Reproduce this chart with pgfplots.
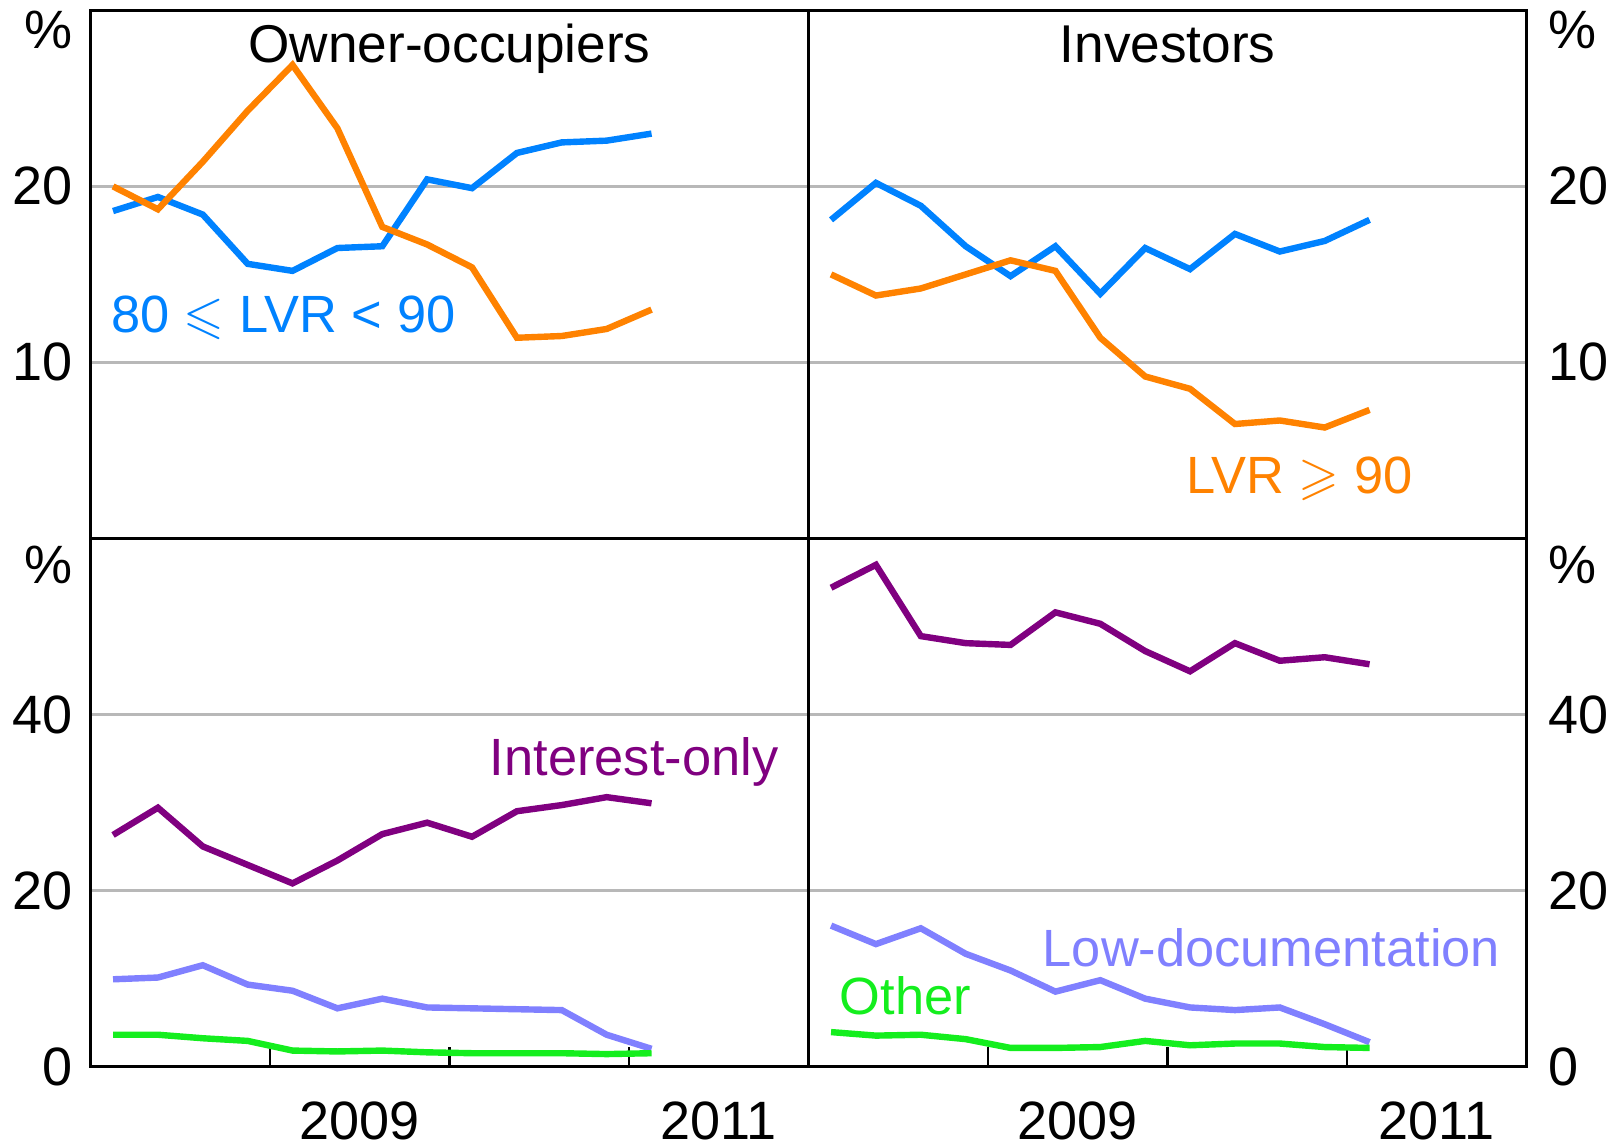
\documentclass[border=0pt]{standalone}
\usepackage{pgfplots}
\usepackage{pgfplotstable}
\pgfplotsset{compat=1.18}
\usepackage{amssymb}
\usepackage{fontspec}
\setmainfont{Liberation Sans}

\definecolor{cblue}{RGB}{0,130,255}
\definecolor{corange}{RGB}{255,130,0}
\definecolor{cpurple}{RGB}{128,0,128}
\definecolor{clilac}{RGB}{128,128,255}
\definecolor{cgreen}{RGB}{20,238,30}

% quarterly data, t = mid-quarter
\pgfplotstableread{
t        oo8090 oo90 inv8090 inv90 ooIO ooLD ooOth invIO invLD invOth
2008.125 18.6  20.0  18.1  15.0  26.3  9.9  3.6  54.4  16.0  3.9
2008.375 19.4  18.7  20.2  13.8  29.4  10.1 3.6  57.0  13.9  3.5
2008.625 18.4  21.4  18.9  14.2  25.0  11.5 3.2  48.9  15.7  3.6
2008.875 15.6  24.3  16.6  15.0  22.9  9.3  2.9  48.1  12.8  3.1
2009.125 15.2  26.9  14.9  15.8  20.8  8.6  1.8  47.9  10.9  2.1
2009.375 16.5  23.3  16.6  15.2  23.4  6.6  1.7  51.6  8.5   2.1
2009.625 16.6  17.7  13.9  11.4  26.4  7.7  1.8  50.3  9.8   2.2
2009.875 20.4  16.7  16.5  9.2   27.7  6.7  1.6  47.2  7.7   2.9
2010.125 19.9  15.4  15.3  8.5   26.1  6.6  1.5  44.9  6.7   2.4
2010.375 21.9  11.4  17.3  6.5   29.0  6.5  1.5  48.1  6.4   2.6
2010.625 22.5  11.5  16.3  6.7   29.7  6.4  1.5  46.1  6.7   2.6
2010.875 22.6  11.9  16.9  6.3   30.6  3.6  1.4  46.5  4.8   2.2
2011.125 23.0  13.0  18.1  7.3   29.9  2.0  1.5  45.7  2.75  2.1
}\data

\pgfplotsset{
  panel/.style={
    scale only axis, width=179.5pt, height=132pt,
    xmin=2008, xmax=2012,
    axis line style={black, line width=0.8pt},
    ymajorgrids,
    grid style={black!28, line width=0.6pt},
    ytick style={draw=none},
    tick label style={font=\fontsize{13.5}{15}\selectfont},
    /pgf/number format/assume math mode=true,
    every axis plot/.append style={line width=1.6pt, mark=none},
    yticklabel style={xshift=-1pt},
  },
  rightlab/.style={yticklabel pos=right, yticklabel style={xshift=3pt}},
  toppanel/.style={panel, ymin=0, ymax=30, ytick={10,20}, xtick=\empty,
    extra y ticks={28.9}, extra y tick labels={\%}, extra y tick style={grid=none}},
  botpanel/.style={panel, ymin=0, ymax=60, ytick={0,20,40},
    extra y ticks={57}, extra y tick labels={\%}, extra y tick style={grid=none},
    xtick={2009.5,2011.5}, xticklabels={2009,2011}, major x tick style={draw=none},
    minor xtick={2009,2010,2011}, minor tick length=4.75pt,
    minor x tick style={black, line width=0.6pt}, xtick pos=bottom,
    xticklabel style={yshift=-5.3pt}},
}

\newcommand{\annfont}{\fontsize{13.1}{15}\selectfont}

\begin{document}
\begin{tikzpicture}
\useasboundingbox (-22.65pt,-20.3pt) rectangle (380.85pt,266.6pt);

% Owner-occupiers, LVR
\begin{axis}[toppanel, at={(0pt,132pt)}, anchor=south west]
\addplot[cblue] table[x=t, y=oo8090] {\data};
\addplot[corange] table[x=t, y=oo90] {\data};
\node[anchor=base, font=\fontsize{13.3}{15}\selectfont] at (rel axis cs:0.5,1) [yshift=-13pt] {Owner-occupiers};
\node[anchor=base west, inner sep=0, font=\annfont, text=cblue] at (axis cs:2008.11,11.7) {80 $\leqslant$ LVR < 90};
\end{axis}

% Investors, LVR
\begin{axis}[toppanel, rightlab, at={(179.5pt,132pt)}, anchor=south west]
\addplot[cblue] table[x=t, y=inv8090] {\data};
\addplot[corange] table[x=t, y=inv90] {\data};
\node[anchor=base, font=\fontsize{13.3}{15}\selectfont] at (rel axis cs:0.5,1) [yshift=-13pt] {Investors};
\node[anchor=base west, inner sep=0, font=\annfont, text=corange] at (axis cs:2010.10,2.56) {LVR $\geqslant$ 90};
\end{axis}

% Owner-occupiers, loan types
\begin{axis}[botpanel, at={(0pt,0pt)}, anchor=south west]
\addplot[cpurple] table[x=t, y=ooIO] {\data};
\addplot[clilac] table[x=t, y=ooLD] {\data};
\addplot[cgreen] table[x=t, y=ooOth] {\data};
\node[anchor=base west, inner sep=0, font=\annfont, text=cpurple] at (axis cs:2010.22,33.1) {Interest-only};
\end{axis}

% Investors, loan types
\begin{axis}[botpanel, rightlab, at={(179.5pt,0pt)}, anchor=south west]
\addplot[cpurple] table[x=t, y=invIO] {\data};
\addplot[clilac] table[x=t, y=invLD] {\data};
\addplot[cgreen] table[x=t, y=invOth] {\data};
\node[anchor=base west, inner sep=0, font=\annfont, text=clilac] at (axis cs:2009.30,11.4) {Low-documentation};
\node[anchor=base west, inner sep=0, font=\annfont, text=cgreen] at (axis cs:2008.17,5.9) {Other};
\end{axis}
\end{tikzpicture}
\end{document}
